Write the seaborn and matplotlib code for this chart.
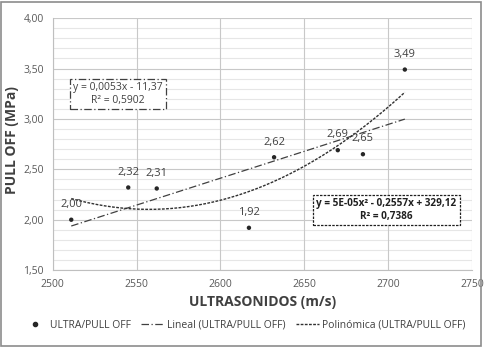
import numpy as np
import pandas as pd
import matplotlib
matplotlib.use("Agg")
import matplotlib.pyplot as plt
import seaborn as sns
from matplotlib.patches import Rectangle
from matplotlib.lines import Line2D

ultra = [2511, 2545, 2562, 2617, 2632, 2670, 2685, 2710]
pull = [2.00, 2.32, 2.31, 1.92, 2.62, 2.69, 2.65, 3.49]
labels = ["2,00", "2,32", "2,31", "1,92", "2,62", "2,69", "2,65", "3,49"]
xticks = [2500, 2550, 2600, 2650, 2700, 2750]
yticks = [1.5, 2.0, 2.5, 3.0, 3.5, 4.0]
ytick_labels = ["1,50", "2,00", "2,50", "3,00", "3,50", "4,00"]
lin_text = "y = 0,0053x - 11,37\nR² = 0,5902"
poly_text = "y = 5E-05x² - 0,2557x + 329,12\nR² = 0,7386"

sns.set_theme(style="white")
plt.rcParams['font.family'] = ['Open Sans', 'DejaVu Sans']

df = pd.DataFrame({"x": ultra, "y": pull})
xs = np.linspace(min(ultra), max(ultra), 200)
lin = np.polyval(np.polyfit(ultra, pull, 1), xs)
quad = np.polyval(np.polyfit(ultra, pull, 2), xs)
fit = pd.DataFrame({"x": xs, "lin": lin, "quad": quad})

fig = plt.figure(figsize=(4.89, 3.49), dpi=100)
ax = fig.add_axes([0.108, 0.226, 0.857, 0.722])

# grid
for v in np.arange(1.5, 4.001, 0.1):
    major = abs((v * 2) - round(v * 2)) < 1e-6
    ax.axhline(v, color="#c8c8c8" if major else "#e6e6e6", lw=0.8, zorder=0)
for v in xticks:
    ax.axvline(v, color="#c8c8c8", lw=0.8, zorder=0)

sns.lineplot(data=fit, x="x", y="lin", ax=ax, color="#404040", lw=0.9,
             linestyle=(0, (6, 2, 1, 2)), zorder=2)
sns.lineplot(data=fit, x="x", y="quad", ax=ax, color="#303030", lw=1.0,
             linestyle=(0, (2, 1)), zorder=2)
sns.scatterplot(data=df, x="x", y="y", ax=ax, color="#262626", s=10,
                edgecolor="none", zorder=3)

for xv, yv, t in zip(ultra, pull, labels):
    ax.annotate(t, (xv, yv), xytext=(0, 7), textcoords="offset points",
                ha="center", va="bottom", fontsize=8, color="#404040")

ax.set_xlim(2500, 2750)
ax.set_ylim(1.5, 4.0)
ax.set_xticks(xticks)
ax.set_xticklabels([str(v) for v in xticks])
ax.set_yticks(yticks)
ax.set_yticklabels(ytick_labels)
ax.tick_params(axis="both", labelsize=7.5, colors="#595959", length=3, width=0.8)
ax.tick_params(axis="both", colors="#595959", labelcolor="#595959")
for s in ["top", "right"]:
    ax.spines[s].set_visible(False)
for s in ["left", "bottom"]:
    ax.spines[s].set_color("#bfbfbf")
    ax.spines[s].set_linewidth(0.8)

ax.set_xlabel("ULTRASONIDOS (m/s)", fontsize=10, fontweight="bold", color="#404040")
ax.set_ylabel("PULL OFF (MPa)", fontsize=10, fontweight="bold", color="#404040")
ax.xaxis.set_label_coords(0.5, -0.127)
ax.yaxis.set_label_coords(-0.098, 0.516)
ax.yaxis.label.set_va("center")
ax.xaxis.label.set_va("center")

ax.text(2539, 3.25, lin_text, ha="center", va="center", fontsize=7.5, color="#404040",
        linespacing=1.25,
        bbox=dict(boxstyle="square,pad=0.3", fc="white", ec="#404040", lw=0.9,
                  linestyle=(0, (6, 2, 1, 2))))
ax.text(2699, 2.095, poly_text, ha="center", va="center", fontsize=7.2, color="#202020",
        fontweight="bold", linespacing=1.25,
        bbox=dict(boxstyle="square,pad=0.3", fc="white", ec="#202020", lw=0.9,
                  linestyle=(0, (2, 1))))

handles = [
    Line2D([], [], marker="o", ms=3, color="#262626", lw=0),
    Line2D([], [], color="#404040", lw=0.9, linestyle=(0, (6, 2, 1, 2))),
    Line2D([], [], color="#303030", lw=1.0, linestyle=(0, (2, 1))),
]
fig.legend(handles, ["ULTRA/PULL OFF", "Lineal (ULTRA/PULL OFF)", "Polinómica (ULTRA/PULL OFF)"],
           loc="center", bbox_to_anchor=(0.5, 0.068), ncol=3, frameon=False,
           fontsize=7.5, handlelength=2.2, columnspacing=1.0, handletextpad=0.3,
           labelcolor="#404040")

fig.patches.append(Rectangle((0.003, 0.01), 0.98, 0.985, transform=fig.transFigure,
                             fill=False, ec="#8c8c8c", lw=1.2))

fig.savefig("out.png", dpi=100)
